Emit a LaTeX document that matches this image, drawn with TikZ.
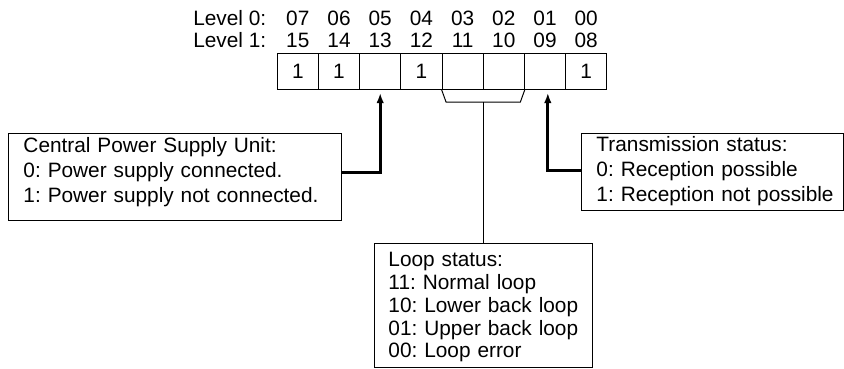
\documentclass[tikz,border=0pt]{standalone}
\usepackage{fontspec}
\setmainfont{Liberation Sans}
\frenchspacing
\usetikzlibrary{arrows.meta}
\begin{document}
\begin{tikzpicture}[
    bit/.style={draw, line width=0.7pt, minimum width=1.03cm, minimum height=0.9cm, inner sep=0pt},
    num/.style={inner sep=0pt, anchor=base},
    note/.style={draw, line width=0.7pt, anchor=north west, align=left, inner xsep=0.375cm, inner ysep=0pt},
    feed/.style={line width=1.9pt, -{Latex[length=0.26cm,width=0.19cm]}},
    font=\fontsize{14.8}{17.8}\selectfont]
          \useasboundingbox (0,0) rectangle (21.1,9.2);
          \node[num, anchor=base west] (lv0) at (4.825,8.555) {Level 0:};
          \node[num, anchor=base west] (lv1) at (4.825,8.0125) {Level 1:};
          \node[num] (n07) at (7.445,8.555) {07};
          \node[num] (n06) at (8.475,8.555) {06};
          \node[num] (n05) at (9.505,8.555) {05};
          \node[num] (n04) at (10.535,8.555) {04};
          \node[num] (n03) at (11.565,8.555) {03};
          \node[num] (n02) at (12.595,8.555) {02};
          \node[num] (n01) at (13.625,8.555) {01};
          \node[num] (n00) at (14.655,8.555) {00};
          \node[num] (m15) at (7.445,8.0125) {15};
          \node[num] (m14) at (8.475,8.0125) {14};
          \node[num] (m13) at (9.505,8.0125) {13};
          \node[num] (m12) at (10.535,8.0125) {12};
          \node[num] (m11) at (11.565,8.0125) {11};
          \node[num] (m10) at (12.595,8.0125) {10};
          \node[num] (m09) at (13.625,8.0125) {09};
          \node[num] (m08) at (14.655,8.0125) {08};

          \node[bit] (b07) at (7.445,7.425) {1};
          \node[bit] (b06) at (8.475,7.425) {1};
          \node[bit] (b05) at (9.505,7.425) {};
          \node[bit] (b04) at (10.535,7.425) {1};
          \node[bit] (b03) at (11.565,7.425) {};
          \node[bit] (b02) at (12.595,7.425) {};
          \node[bit] (b01) at (13.625,7.425) {};
          \node[bit] (b00) at (14.655,7.425) {1};

          \node[note, text width=7.575cm] (psu) at (0.2,5.875)
            {\rule{0pt}{0.4675cm}\mbox{Central Power Supply Unit:}\\\mbox{0: Power supply connected.}\\\mbox{1: Power supply not connected.}\rule[-0.445cm]{0pt}{0pt}};
          \node[note, text width=5.8cm] (trs) at (14.525,5.875)
            {\rule{0pt}{0.445cm}\mbox{Transmission status:}\\\mbox{0: Reception possible}\\\mbox{1: Reception not possible}\rule[-0.23cm]{0pt}{0pt}};
          \node[note, inner xsep=0.35cm, text width=4.75cm, font=\fontsize{14.8}{16.3}\selectfont] (loop) at (9.35,3.1175)
            {\rule{0pt}{0.5625cm}\mbox{Loop status:}\\\mbox{11: Normal loop}\\\mbox{10: Lower back loop}\\\mbox{01: Upper back loop}\\\mbox{00: Loop error}\rule[-0.2375cm]{0pt}{0pt}};

          \coordinate (brl) at ([xshift=0.115cm,yshift=-0.3175cm]b03.south west);
          \coordinate (brr) at ([xshift=-0.115cm,yshift=-0.3175cm]b02.south east);
          \coordinate (brm) at (brl -| b03.south east);
          \draw[line width=0.7pt] (b03.south west) -- (brl) -- (brr) -- (b02.south east);
          \draw[line width=0.7pt] (brm) -- (brm |- loop.north);

          \draw[feed] ([yshift=0.11cm]psu.east) -| ([yshift=-0.0825cm]b05.south);
          \draw[feed] ([yshift=0.0375cm]trs.west) -| ([xshift=0.07cm,yshift=-0.0825cm]b01.south);
      \end{tikzpicture}
\end{document}
